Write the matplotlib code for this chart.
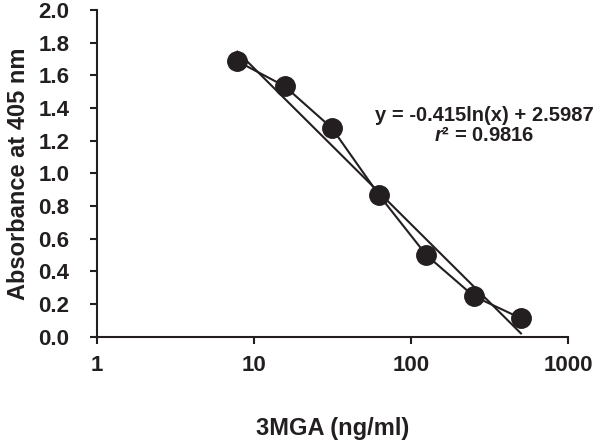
import numpy as np
import matplotlib.pyplot as plt

plt.rcParams['font.family'] = ['Liberation Sans', 'DejaVu Sans']
plt.rcParams['font.weight'] = 'bold'
plt.rcParams['mathtext.fontset'] = 'custom'
plt.rcParams['mathtext.it'] = 'Liberation Sans:italic:bold'
plt.rcParams['mathtext.rm'] = 'Liberation Sans:bold'

conc = [7.8125, 15.625, 31.25, 62.5, 125, 250, 500]
absorb = [1.687, 1.534, 1.277, 0.866, 0.499, 0.248, 0.112]
slope, intercept = -0.415, 2.5987
r2 = 0.9816

fig = plt.figure(figsize=(6, 4.4), dpi=100)
ax = fig.add_axes([0.162, 0.235, 0.785, 0.742])

# fitted log trendline
xf = np.logspace(np.log10(conc[0]), np.log10(conc[-1]), 50)
ax.plot(xf, slope * np.log(xf) + intercept, color='#231f20', lw=1.5)
ax.plot(conc, absorb, color='#231f20', lw=1.5, marker='o', ms=14)

ax.set_xscale('log')
ax.set_xlim(1, 1000)
ax.set_ylim(0, 2.0)
ax.set_yticks(np.arange(0, 2.01, 0.2))
ax.set_xticks([1, 10, 100, 1000])
ax.set_xticklabels(['1', '10', '100', '1000'])
ax.minorticks_off()
ax.yaxis.set_major_formatter(plt.FormatStrFormatter('%.1f'))
for s in ['top', 'right']:
    ax.spines[s].set_visible(False)
for s in ['left', 'bottom']:
    ax.spines[s].set_linewidth(1.5)
    ax.spines[s].set_color('#231f20')
ax.tick_params(width=1.5, length=5, labelsize=16, color='#231f20', labelcolor='#231f20')
ax.tick_params(axis='y', pad=15)
ax.tick_params(axis='x', pad=8)

ax.set_xlabel('3MGA (ng/ml)', fontsize=17, fontweight='bold', labelpad=30, color='#231f20')
ax.set_ylabel('Absorbance at 405 nm', fontsize=17, fontweight='bold', labelpad=6, color='#231f20')

eq = f'y = {slope}ln(x) + {intercept}\n' + r'$\mathit{r}$' + f'² = {r2}'
ax.text(0.822, 0.705, eq, transform=ax.transAxes, ha='center', va='top',
        multialignment='center', linespacing=1.05,
        fontsize=14.5, fontweight='bold', color='#231f20')

fig.savefig('out.png', dpi=100)
